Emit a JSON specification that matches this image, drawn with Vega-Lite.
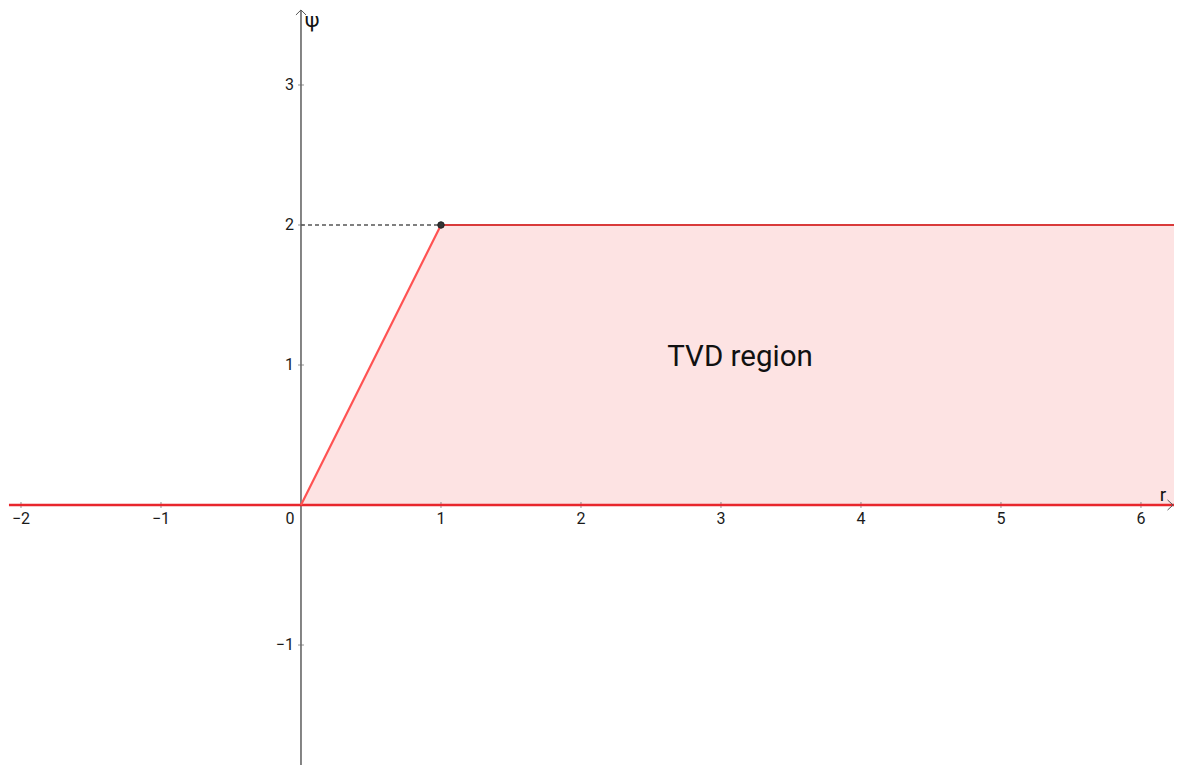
{
  "$schema": "https://vega.github.io/schema/vega-lite/v6.json",
  "width": 1181,
  "height": 765,
  "padding": 0,
  "autosize": {"type": "none"},
  "background": "white",
  "config": {"view": {"stroke": null}, "font": "Roboto"},
  "datasets": {
    "region": [
      {"r": 0, "psi": 0, "base": 0},
      {"r": 1, "psi": 2, "base": 0},
      {"r": 6.236, "psi": 2, "base": 0}
    ],
    "boundary": [
      {"seg": "floor", "r": -2.086, "psi": 0, "k": 0},
      {"seg": "floor", "r": 6.236, "psi": 0, "k": 1},
      {"seg": "ramp", "r": 0, "psi": 0, "k": 0},
      {"seg": "ramp", "r": 1, "psi": 2, "k": 1},
      {"seg": "cap", "r": 1, "psi": 2, "k": 0},
      {"seg": "cap", "r": 6.236, "psi": 2, "k": 1}
    ],
    "guide": [
      {"r": 0, "psi": 2, "k": 0},
      {"r": 1, "psi": 2, "k": 1}
    ],
    "corner": [{"r": 1, "psi": 2}],
    "yaxis": [
      {"r": 0, "psi": -1.86, "k": 0},
      {"r": 0, "psi": 3.536, "k": 1}
    ],
    "arrows": [
      {"a": "y", "r": -0.036, "psi": 3.5, "k": 0},
      {"a": "y", "r": 0, "psi": 3.536, "k": 1},
      {"a": "y", "r": 0.036, "psi": 3.5, "k": 2},
      {"a": "x", "r": 6.19, "psi": 0.036, "k": 0},
      {"a": "x", "r": 6.229, "psi": 0, "k": 1},
      {"a": "x", "r": 6.19, "psi": -0.036, "k": 2}
    ],
    "xticks": [
      {"r": -2, "psi": 0, "label": "−2"},
      {"r": -1, "psi": 0, "label": "−1"},
      {"r": 1, "psi": 0, "label": "1"},
      {"r": 2, "psi": 0, "label": "2"},
      {"r": 3, "psi": 0, "label": "3"},
      {"r": 4, "psi": 0, "label": "4"},
      {"r": 5, "psi": 0, "label": "5"},
      {"r": 6, "psi": 0, "label": "6"}
    ],
    "yticks": [
      {"r": 0, "psi": -1, "label": "−1"},
      {"r": 0, "psi": 1, "label": "1"},
      {"r": 0, "psi": 2, "label": "2"},
      {"r": 0, "psi": 3, "label": "3"}
    ],
    "origin": [{"r": 0, "psi": 0, "label": "0"}],
    "names": [
      {"r": 0.08, "psi": 3.46, "label": "ψ", "size": 21},
      {"r": 6.157, "psi": 0.075, "label": "r", "size": 19}
    ],
    "caption": [{"r": 3.136, "psi": 1.055, "label": "TVD region"}]
  },
  "encoding": {
    "x": {"field": "r", "type": "quantitative", "scale": {"domain": [-2.15, 6.286], "nice": false, "zero": false}, "axis": null},
    "y": {"field": "psi", "type": "quantitative", "scale": {"domain": [-1.857, 3.607], "nice": false, "zero": false}, "axis": null}
  },
  "layer": [
    {
      "data": {"name": "region"},
      "mark": {"type": "area", "fill": "#fde3e3", "fillOpacity": 1, "stroke": null},
      "encoding": {
        "y": {"field": "psi", "type": "quantitative", "stack": null},
        "y2": {"field": "base"}
      }
    },
    {
      "data": {"name": "yaxis"},
      "mark": {"type": "line", "color": "#333333", "strokeWidth": 1.2},
      "encoding": {"order": {"field": "k", "type": "quantitative"}}
    },
    {
      "data": {"name": "xticks"},
      "mark": {"type": "tick", "orient": "vertical", "size": 6, "thickness": 1, "color": "#666666"}
    },
    {
      "data": {"name": "yticks"},
      "mark": {"type": "tick", "orient": "horizontal", "size": 6, "thickness": 1, "color": "#666666"}
    },
    {
      "data": {"name": "guide"},
      "mark": {"type": "line", "color": "#555555", "strokeWidth": 1.5, "strokeDash": [4, 3]},
      "encoding": {"order": {"field": "k", "type": "quantitative"}}
    },
    {
      "data": {"name": "boundary"},
      "mark": {"type": "line", "clip": true},
      "encoding": {
        "detail": {"field": "seg"},
        "order": {"field": "k", "type": "quantitative"},
        "color": {
          "field": "seg",
          "type": "nominal",
          "scale": {"domain": ["floor", "ramp", "cap"], "range": ["#e8262c", "#ff5252", "#d93a3a"]},
          "legend": null
        },
        "strokeWidth": {
          "field": "seg",
          "type": "nominal",
          "scale": {"domain": ["floor", "ramp", "cap"], "range": [2.3, 2, 2.4]},
          "legend": null
        }
      }
    },
    {
      "data": {"name": "arrows"},
      "mark": {"type": "line", "color": "#555555", "strokeWidth": 1},
      "encoding": {
        "detail": {"field": "a"},
        "order": {"field": "k", "type": "quantitative"}
      }
    },
    {
      "data": {"name": "corner"},
      "mark": {"type": "point", "filled": true, "size": 42, "color": "#333333", "opacity": 1, "stroke": "#222222", "strokeWidth": 1}
    },
    {
      "data": {"name": "xticks"},
      "mark": {"type": "text", "fontSize": 16, "dy": 14, "baseline": "middle", "align": "center", "color": "#1a1a1a"},
      "encoding": {"text": {"field": "label"}}
    },
    {
      "data": {"name": "yticks"},
      "mark": {"type": "text", "fontSize": 16, "dx": -7, "baseline": "middle", "align": "right", "color": "#1a1a1a"},
      "encoding": {"text": {"field": "label"}}
    },
    {
      "data": {"name": "origin"},
      "mark": {"type": "text", "fontSize": 16, "dx": -11, "dy": 14, "baseline": "middle", "align": "center", "color": "#1a1a1a"},
      "encoding": {"text": {"field": "label"}}
    },
    {
      "data": {"name": "names"},
      "mark": {"type": "text", "baseline": "middle", "align": "center", "color": "#111111"},
      "encoding": {"text": {"field": "label"}, "size": {"field": "size", "type": "quantitative", "scale": null}}
    },
    {
      "data": {"name": "caption"},
      "mark": {"type": "text", "fontSize": 29.5, "baseline": "middle", "align": "center", "color": "#111111"},
      "encoding": {"text": {"field": "label"}}
    }
  ]
}
